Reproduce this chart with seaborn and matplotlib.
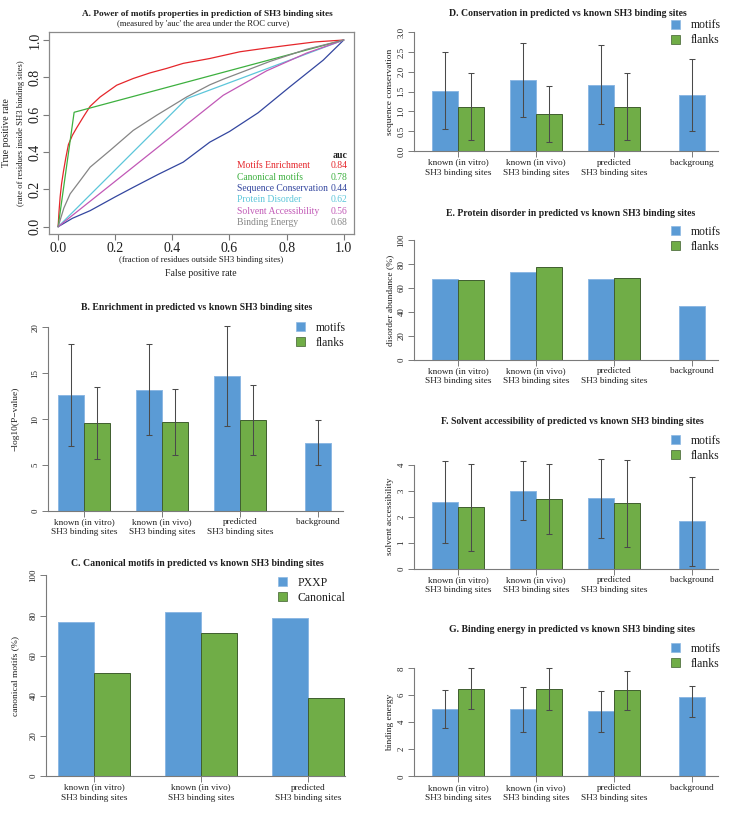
import numpy as np
import pandas as pd
import matplotlib
matplotlib.use('Agg')
import matplotlib.pyplot as plt
import seaborn as sns
from matplotlib.patches import Patch

W, H = 730, 822

# ---- A. ROC curves
enrich_fpr = [0, 0.003, 0.007, 0.012, 0.019, 0.027, 0.036, 0.05, 0.065, 0.089, 0.112, 0.147,
              0.205, 0.263, 0.322, 0.38, 0.438, 0.531, 0.636, 0.72, 0.811, 0.9, 1]
enrich_tpr = [0, 0.08, 0.16, 0.23, 0.30, 0.37, 0.44, 0.49, 0.53, 0.59, 0.645, 0.695,
              0.758, 0.794, 0.824, 0.848, 0.875, 0.901, 0.937, 0.955, 0.973, 0.99, 1]
canon_fpr = [0, 0.056, 1]
canon_tpr = [0, 0.613, 1]
conserv_fpr = [0, 0.05, 0.112, 0.2, 0.263, 0.35, 0.438, 0.531, 0.6, 0.7, 0.811, 0.928, 1]
conserv_tpr = [0, 0.045, 0.086, 0.16, 0.211, 0.28, 0.346, 0.453, 0.51, 0.61, 0.749, 0.892, 1]
disorder_fpr = [0, 0.45, 1]
disorder_tpr = [0, 0.686, 1]
solvent_fpr = [0, 0.578, 0.73, 0.87, 1]
solvent_tpr = [0, 0.704, 0.835, 0.93, 1]
energy_fpr = [0, 0.02, 0.042, 0.077, 0.112, 0.182, 0.263, 0.345, 0.45, 0.531, 0.578, 0.741, 0.869, 1]
energy_tpr = [0, 0.1, 0.176, 0.247, 0.319, 0.409, 0.516, 0.597, 0.695, 0.76, 0.79, 0.885, 0.95, 1]

auc_names = ['Motifs Enrichment', 'Canonical motifs', 'Sequence Conservation',
             'Protein Disorder', 'Solvent Accessibility', 'Binding Energy']
auc_values = ['0.84', '0.78', '0.44', '0.62', '0.56', '0.68']
auc_colors = ['#E5262B', '#3DB03F', '#33469F', '#5CC6DA', '#C158B6', '#858585']

# ---- bar panels
sites = ['known (in vitro)\nSH3 binding sites', 'known (in vivo)\nSH3 binding sites',
         'predicted\nSH3 binding sites', 'background']
sites_d = sites[:3] + ['backgroung']

enrich_motifs = [12.6, 13.2, 14.7, 7.4]
enrich_motifs_sd = [5.55, 4.95, 5.45, 2.47]
enrich_flanks = [9.55, 9.67, 9.9]
enrich_flanks_sd = [3.9, 3.55, 3.85]

pxxp = [76.9, 81.6, 78.6]
canonical = [51.2, 71.1, 39.1]

conserv_motifs = [1.52, 1.79, 1.68, 1.41]
conserv_motifs_sd = [0.97, 0.93, 1.01, 0.91]
conserv_flanks = [1.12, 0.94, 1.12]
conserv_flanks_sd = [0.85, 0.71, 0.84]

disorder_motifs = [67.9, 73.7, 67.9, 45.3]
disorder_flanks = [66.5, 77.4, 68.2]

solvent_motifs = [2.56, 3.0, 2.71, 1.82]
solvent_motifs_sd = [1.57, 1.14, 1.51, 1.71]
solvent_flanks = [2.37, 2.67, 2.51]
solvent_flanks_sd = [1.67, 1.35, 1.68]

energy_motifs = [4.99, 4.99, 4.81, 5.9]
energy_motifs_lo = [1.43, 1.68, 1.5, 1.5]
energy_motifs_hi = [1.41, 1.6, 1.49, 0.82]
energy_flanks = [6.49, 6.44, 6.37]
energy_flanks_sd = [1.52, 1.56, 1.46]

blue, green = '#5B9BD5', '#70AD47'
blue_edge, green_edge = '#8DB8E3', '#3F5E2E'
axis_col, text_col = '#7A7A7A', '#1E1E1E'

sns.set_style('white')
plt.rcParams['font.family'] = ['Liberation Serif', 'DejaVu Serif']

fig = plt.figure(figsize=(W / 100, H / 100), dpi=100)


def px_axes(left, right, top, bottom):
    return fig.add_axes([left / W, 1 - bottom / H, (right - left) / W, (bottom - top) / H])


def ftext(x, y, s, **kw):
    kw.setdefault('color', text_col)
    fig.text(x / W, 1 - y / H, s, **kw)


# ================= A =================
axA = px_axes(49, 354, 32, 234)
curves = [(enrich_fpr, enrich_tpr), (canon_fpr, canon_tpr), (conserv_fpr, conserv_tpr),
          (disorder_fpr, disorder_tpr), (solvent_fpr, solvent_tpr), (energy_fpr, energy_tpr)]
roc = pd.concat([pd.DataFrame({'fpr': f, 'tpr': t, 'method': n})
                 for (f, t), n in zip(curves, auc_names)], ignore_index=True)
sns.lineplot(data=roc, x='fpr', y='tpr', hue='method', hue_order=auc_names, palette=auc_colors,
             estimator=None, sort=False, legend=False, lw=0.9, ax=axA)
axA.set_xlim(-0.032, 1.036)
axA.set_ylim(-0.039, 1.043)
axA.set_xticks(np.arange(0, 1.01, 0.2))
axA.set_yticks(np.arange(0, 1.01, 0.2))
axA.set_xticklabels([f'{v:.1f}' for v in np.arange(0, 1.01, 0.2)])
axA.set_yticklabels([f'{v:.1f}' for v in np.arange(0, 1.01, 0.2)], rotation=90, va='center')
axA.set_xlabel('')
axA.set_ylabel('')
axA.tick_params(colors=axis_col, labelcolor=text_col, labelsize=10, length=4, width=0.8,
                bottom=True, left=True)
axA.tick_params(axis='x', pad=2)
axA.tick_params(axis='y', pad=1.5)
for sp in axA.spines.values():
    sp.set_color('#8A8A8A')
    sp.set_linewidth(0.9)

ftext(207, 14, 'A. Power of motifs properties in prediction of SH3 binding sites',
      ha='center', va='center', fontsize=6.7, fontweight='bold')
ftext(203, 23.5, "(measured by 'auc' the area under the ROC curve)", ha='center', va='center', fontsize=6.2)
ftext(201, 260, '(fraction of residues outside SH3 binding sites)', ha='center', va='center', fontsize=6.2)
ftext(201, 274, 'False positive rate', ha='center', va='center', fontsize=7)
ftext(7, 133, 'True positive rate', ha='center', va='center', rotation=90, fontsize=7)
ftext(21, 133, '(rate of residues inside SH3 binding sites)', ha='center', va='center',
      rotation=90, fontsize=6.2)

ftext(347.5, 155, 'auc', ha='right', va='center', fontsize=7, fontweight='bold')
for i, (name, auc, col) in enumerate(zip(auc_names, auc_values, auc_colors)):
    y = 166 + i * 11.3
    ftext(237, y, name, ha='left', va='center', fontsize=6.9, color=col)
    ftext(347.5, y, auc, ha='right', va='center', fontsize=6.9, color=col)


# ================= bar panels =================
def bar_panel(box, cats, first, second, first_err, second_err, names, width, tick0, step,
              yticks, title, title_x, title_y, ylabel, ylabel_x, legend_xy):
    left, right, top, bottom = box
    ax = px_axes(left, right, top, bottom)
    n1, n2 = len(first), len(second)
    df = pd.DataFrame({'site': list(cats[:n1]) + list(cats[:n2]),
                       'group': [names[0]] * n1 + [names[1]] * n2,
                       'value': list(first) + list(second)})
    sns.barplot(data=df, x='site', y='value', hue='group', order=cats, hue_order=names,
                palette=[blue, green], width=width, errorbar=None, saturation=1,
                legend=False, ax=ax)
    conts = list(ax.containers)
    for k, (cont, err, edge) in enumerate(zip(conts, (first_err, second_err), (blue_edge, green_edge))):
        bars = list(cont)
        for j, b in enumerate(bars):
            b.set_edgecolor(edge)
            b.set_linewidth(0.7)
            if k == 0 and j >= n2:
                # no partner bar: centre it on its tick
                b.set_x(j - b.get_width() / 2)
        if err is not None:
            xs = [b.get_x() + b.get_width() / 2 for b in bars]
            ys = [b.get_height() for b in bars]
            ax.errorbar(xs, ys, yerr=err, fmt='none', ecolor='#4A4A4A', elinewidth=0.75,
                        capsize=2.5, capthick=0.75, clip_on=False, zorder=5)
    ax.set_xlim((left - tick0) / step, (right - tick0) / step)
    ax.set_ylim(yticks[0], yticks[-1])
    ax.set_yticks(yticks)
    ax.set_yticklabels([str(v) for v in yticks], rotation=90, va='center')
    ax.set_xlabel('')
    ax.set_ylabel('')
    for sp in ('top', 'right'):
        ax.spines[sp].set_visible(False)
    ax.spines['left'].set_bounds(yticks[0], yticks[-1])
    for sp in ('left', 'bottom'):
        ax.spines[sp].set_color(axis_col)
        ax.spines[sp].set_linewidth(0.8)
    ax.tick_params(colors=axis_col, labelcolor=text_col, labelsize=6.7, length=4, width=0.7,
                   bottom=True, left=True)
    ax.tick_params(axis='x', pad=1.5)
    ax.tick_params(axis='y', labelsize=6.3, pad=2)
    for lab in ax.get_xticklabels():
        lab.set_linespacing(1.35)
    ftext(title_x, title_y, title, ha='center', va='center', fontsize=7, fontweight='bold')
    ftext(ylabel_x, (top + bottom) / 2, ylabel, ha='center', va='center', rotation=90, fontsize=6.8)
    handles = [Patch(facecolor=blue, edgecolor=blue_edge, lw=0.5),
               Patch(facecolor=green, edgecolor=green_edge, lw=0.5)]
    lx, ly = legend_xy
    ax.legend(handles, names, loc='upper left', bbox_to_anchor=(lx / W, 1 - ly / H),
              bbox_transform=fig.transFigure, frameon=False, fontsize=8.5, handlelength=0.8,
              handleheight=0.8, handletextpad=0.85, labelspacing=0.25, borderpad=0,
              borderaxespad=0, labelcolor=text_col)
    return ax


# B: enrichment
bar_panel((48, 343, 327.3, 510.7), sites, enrich_motifs, enrich_flanks, enrich_motifs_sd,
          enrich_flanks_sd, ('motifs', 'flanks'), 0.667, 84, 78, [0, 5, 10, 15, 20],
          'B. Enrichment in predicted vs known SH3 binding sites', 197, 308,
          '\u2212log10(P\u2212value)', 16, (296, 322))

# C: canonical motifs
bar_panel((46, 345, 575.5, 776), sites[:3], pxxp, canonical, None, None, ('PXXP', 'Canonical'),
          0.673, 94, 107, [0, 20, 40, 60, 80, 100],
          'C. Canonical motifs in predicted vs known SH3 binding sites', 197, 563,
          'canonical motifs (%)', 15, (278, 577))

# D: conservation
bar_panel((414, 718, 32.3, 151), sites_d, conserv_motifs, conserv_flanks, conserv_motifs_sd,
          conserv_flanks_sd, ('motifs', 'flanks'), 0.667, 458, 78,
          [0.0, 0.5, 1.0, 1.5, 2.0, 2.5, 3.0],
          'D. Conservation in predicted vs known SH3 binding sites', 568, 14,
          'sequence conservation', 390, (671, 19.5))

# E: disorder
bar_panel((414, 718, 240.3, 359.7), sites, disorder_motifs, disorder_flanks, None, None,
          ('motifs', 'flanks'), 0.667, 458, 78, [0, 20, 40, 60, 80, 100],
          'E. Protein disorder in predicted vs known SH3 binding sites', 571, 213,
          'disorder abundance (%)', 390, (671, 226))

# F: solvent accessibility
bar_panel((414, 718, 464.7, 568.7), sites, solvent_motifs, solvent_flanks, solvent_motifs_sd,
          solvent_flanks_sd, ('motifs', 'flanks'), 0.667, 458, 78, [0, 1, 2, 3, 4],
          'F. Solvent accessibility of predicted vs known SH3 binding sites', 572, 421,
          'solvent accessibility', 390, (671, 435))

# G: binding energy
bar_panel((414, 718, 668.3, 776.3), sites, energy_motifs, energy_flanks,
          [energy_motifs_lo, energy_motifs_hi], energy_flanks_sd, ('motifs', 'flanks'),
          0.667, 458, 78, [0, 2, 4, 6, 8],
          'G. Binding energy in predicted vs known SH3 binding sites', 572, 629,
          'binding energy', 390, (671, 643))

fig.savefig('out.png', dpi=100)
